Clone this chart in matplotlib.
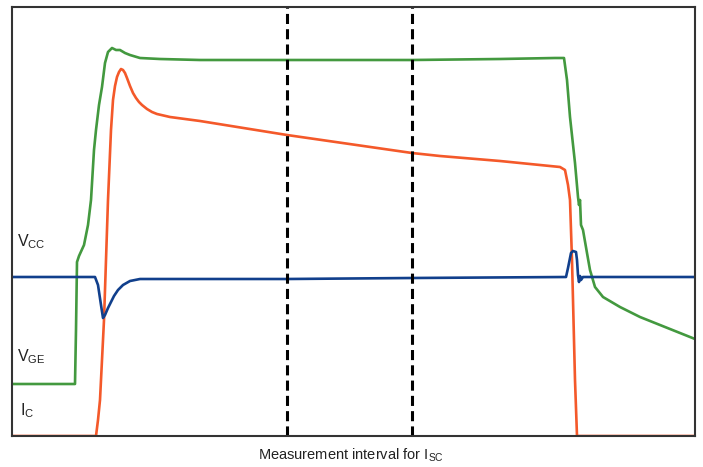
import matplotlib
matplotlib.use("Agg")
import matplotlib.pyplot as plt

plt.rcParams['font.family'] = ['Liberation Sans', 'DejaVu Sans']
plt.rcParams['mathtext.fontset'] = 'custom'
plt.rcParams['mathtext.rm'] = 'Liberation Sans'

# time axis (arbitrary sample units) and amplitudes (arbitrary scope units)
vge_t = [0, 63, 64, 65, 67, 72, 76, 79, 82, 84, 87, 90, 93, 96, 100, 104, 108, 113, 118,
         128, 148, 188, 275, 400, 488, 543, 552, 555, 558, 563, 566, 567, 568, 569, 571,
         575, 578, 583, 591, 608, 628, 648, 668, 683]
vge_v = [52, 52, 106, 174, 180, 191, 211, 236, 286, 306, 331, 349, 373, 384, 388, 386,
         386, 383, 381, 378, 377, 376, 376, 376, 377, 378, 378, 356, 319, 273, 239, 231,
         236, 211, 206, 183, 166, 149, 139, 129, 119, 111, 103, 97]

ic_t = [0, 84, 86, 88, 92, 96, 99, 101, 103, 105, 107, 109, 111, 113, 115, 118, 121,
        124, 127, 130, 135, 140, 145, 158, 188, 275, 400, 428, 488, 528, 548, 553, 556,
        558, 560, 561, 563, 565, 683]
ic_v = [0, 0, 16, 36, 116, 236, 306, 336, 350, 359, 364, 367, 366, 363, 358, 350, 343,
        338, 334, 331, 327, 324, 322, 319, 315, 301, 283, 280, 275, 271, 269, 266, 251,
        236, 176, 136, 56, 0, 0]

vcc_t = [0, 83, 86, 89, 91, 93, 96, 99, 102, 106, 111, 118, 128, 275, 400, 554, 556,
         559, 561, 564, 565, 566, 567, 568, 569, 571, 683]
vcc_v = [159, 159, 151, 131, 118, 121, 128, 134, 140, 146, 151, 155, 157, 157, 158, 159,
         168, 183, 185, 184, 176, 161, 154, 160, 156, 159, 159]

meas_start, meas_end = 275, 400

green = '#43993f'
orange = '#f4592a'
blue = '#113f8c'

fig = plt.figure(figsize=(7.03, 4.67), dpi=100)
ax = fig.add_axes([12 / 703, 31 / 467, 683 / 703, 429 / 467])

ax.plot(vge_t, vge_v, color=green, lw=1.9, solid_joinstyle='round')
ax.plot(ic_t, ic_v, color=orange, lw=1.9, solid_joinstyle='round')
ax.plot(vcc_t, vcc_v, color=blue, lw=1.9, solid_joinstyle='round')

for xv in (meas_start, meas_end):
    ax.axvline(xv, color='black', lw=2.2, dashes=(3.3, 1.7))

ax.set_xlim(0, 683)
ax.set_ylim(0, 429)
ax.set_xticks([])
ax.set_yticks([])
for s in ax.spines.values():
    s.set_color('#333333')
    s.set_linewidth(1.5)

ax.text(5, 190, r'$\mathrm{V_{CC}}$', fontsize=11.5, color='#222222', va='baseline')
ax.text(5, 75, r'$\mathrm{V_{GE}}$', fontsize=11.5, color='#222222', va='baseline')
ax.text(8, 21, r'$\mathrm{I_{C}}$', fontsize=11.5, color='#222222', va='baseline')

fig.text(0.5 * (259 + 443) / 703, 1 - 455 / 467, r'Measurement interval for $\mathrm{I_{SC}}$',
         fontsize=10.5, color='#222222', ha='center', va='center')

fig.savefig('out.png', dpi=100)
